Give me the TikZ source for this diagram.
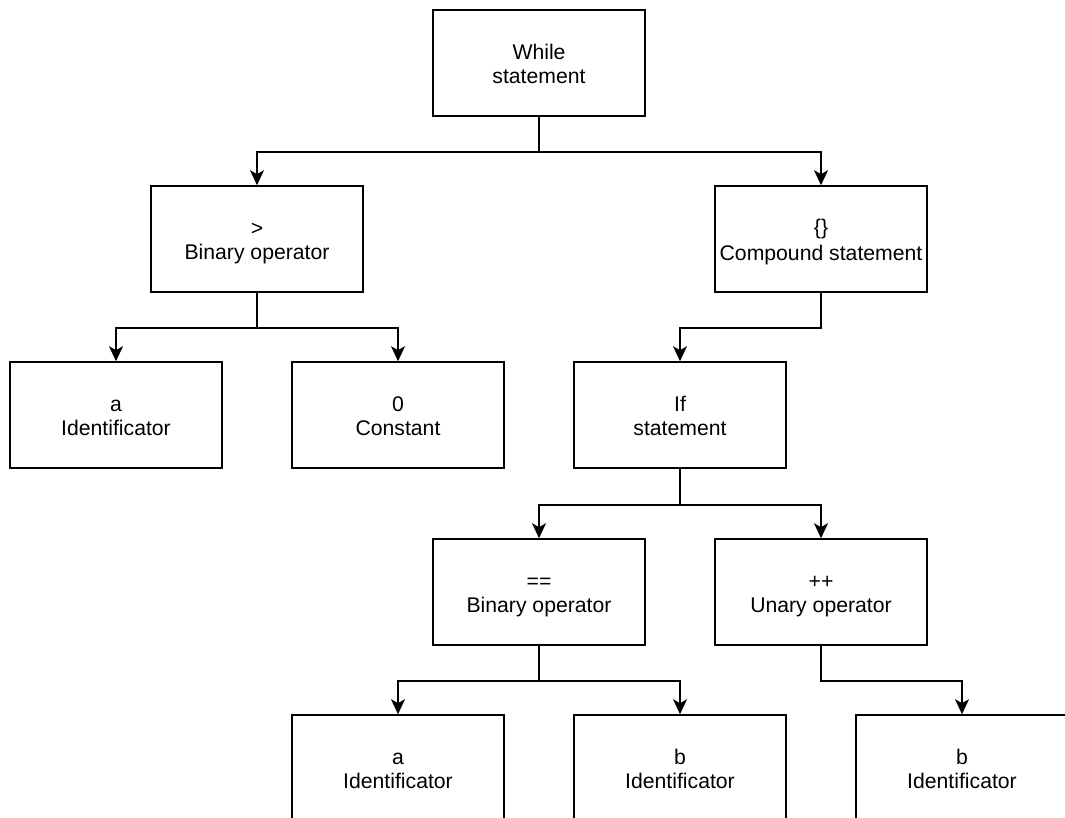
\documentclass[tikz,border=0pt]{standalone}
\usepackage{fontspec}
\setmainfont{Liberation Sans}
\usetikzlibrary{arrows.meta}
% equal-height line so every two-line label sits at the same place
\newcommand{\lnstrut}{\rule[-3.5pt]{0pt}{24.3pt}}
\newcommand{\twolines}[2]{\lnstrut#1\\\lnstrut#2}
\begin{document}
\begin{tikzpicture}[x=1pt,y=-1pt,
  box/.style={draw=black, line width=1.6pt, fill=white,
    minimum width=212pt, minimum height=106pt, inner sep=0pt,
    align=center, font=\fontsize{21.2}{24.3}\selectfont},
  link/.style={draw=black, line width=1.6pt,
    -{Stealth[length=15pt,width=14pt,inset=4pt]}}]
\useasboundingbox (0,0) rectangle (1065,817);
\clip (0,0) rectangle (1065,817);

% tree nodes
\node[box] (while) at (539,63)  {\twolines{While}{statement}};
\node[box] (gt)    at (257,239) {\twolines{>}{Binary operator}};
\node[box] (comp)  at (821,239) {\twolines{\{\}}{Compound statement}};
\node[box] (ida)   at (116,415) {\twolines{a}{Identificator}};
\node[box] (zero)  at (398,415) {\twolines{0}{Constant}};
\node[box] (if)    at (680,415) {\twolines{If}{statement}};
\node[box] (eq)    at (539,592) {\twolines{==}{Binary operator}};
\node[box] (inc)   at (821,592) {\twolines{++}{Unary operator}};
\node[box] (ida2)  at (398,768) {\twolines{a}{Identificator}};
\node[box] (idb)   at (680,768) {\twolines{b}{Identificator}};
\node[box] (idb2)  at (962,768) {\twolines{b}{Identificator}};

% connectors
\draw[link] (while.south) -- ++(0,35) -| (gt.north);
\draw[link] (while.south) -- ++(0,35) -| (comp.north);
\draw[link] (gt.south) -- ++(0,35) -| (ida.north);
\draw[link] (gt.south) -- ++(0,35) -| (zero.north);
\draw[link] (comp.south) -- ++(0,35) -| (if.north);
\draw[link] (if.south) -- ++(0,36) -| (eq.north);
\draw[link] (if.south) -- ++(0,36) -| (inc.north);
\draw[link] (eq.south) -- ++(0,35) -| (ida2.north);
\draw[link] (eq.south) -- ++(0,35) -| (idb.north);
\draw[link] (inc.south) -- ++(0,35) -| (idb2.north);
\end{tikzpicture}
\end{document}
